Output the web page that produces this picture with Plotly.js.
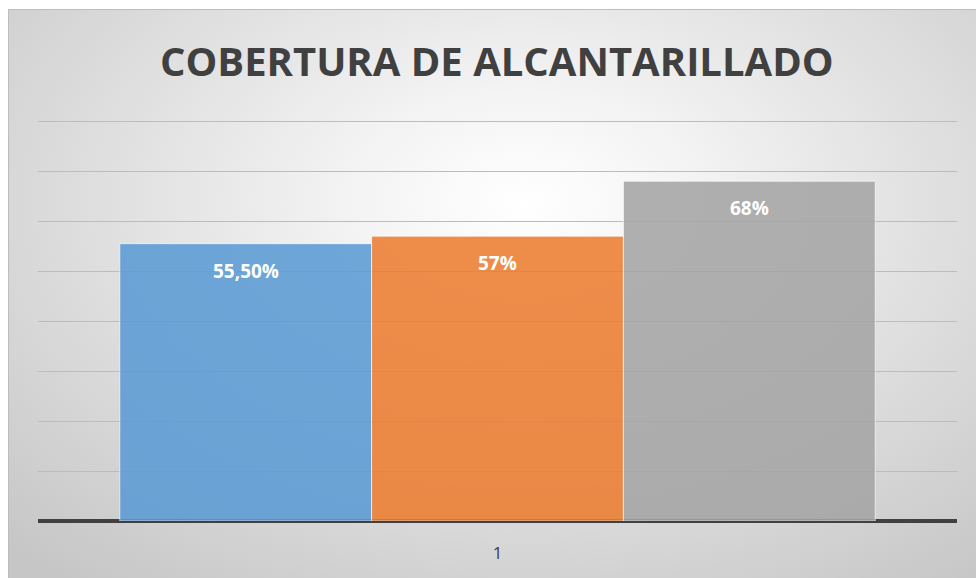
<!DOCTYPE html>
<html>
<head>
<meta charset="utf-8">
<script src="https://cdn.plot.ly/plotly-3.0.1.min.js"></script>
<style>
  html, body { margin: 0; padding: 0; width: 976px; height: 578px; overflow: hidden; background: #ffffff; }
  #frame {
    position: absolute; left: 8px; top: 9px; width: 990px; height: 600px;
    border: 1px solid #bdbdbd;
    background: radial-gradient(ellipse 75% 80% at 52% 32%, #ffffff 0%, #f4f4f4 22%, #dcdcdc 62%, #c6c6c6 100%);
  }
  #chart { position: absolute; left: 0; top: 0; width: 976px; height: 578px; }
</style>
</head>
<body>
<div id="frame"></div>
<div id="chart"></div>
<script>
const categories = ["1"];
const seriesNames = ["Serie 1", "Serie 2", "Serie 3"];
const values = [0.555, 0.57, 0.68];
const labels = ["55,50%", "57%", "68%"];
const colors = ["#5b9bd5", "#ed7d31", "#a5a5a5"];
const yTicks = [0, 0.1, 0.2, 0.3, 0.4, 0.5, 0.6, 0.7, 0.8];

const bargap = 0.178;
const n = values.length;
const barW = (1 - bargap) / n;

const traces = values.map((v, i) => ({
  type: "bar",
  name: seriesNames[i],
  x: categories,
  y: [v],
  marker: { color: colors[i], opacity: 0.87, line: { color: "rgba(255,255,255,0.7)", width: 1 } },
  hoverinfo: "skip"
}));

const annotations = values.map((v, i) => ({
  x: (i - (n - 1) / 2) * barW,
  y: v,
  xref: "x", yref: "y",
  text: "<b>" + labels[i] + "</b>",
  showarrow: false,
  yshift: -27,
  font: { family: "Open Sans, sans-serif", size: 19, color: "#ffffff" }
}));

const layout = {
  width: 976, height: 578,
  paper_bgcolor: "rgba(0,0,0,0)",
  plot_bgcolor: "rgba(0,0,0,0)",
  margin: { l: 38, r: 19, t: 120, b: 57 },
  showlegend: false,
  barmode: "group",
  bargap: bargap,
  bargroupgap: 0,
  title: {
    text: "<b>COBERTURA DE ALCANTARILLADO</b>",
    x: 0.509, xanchor: "center",
    y: 0.893, yanchor: "middle",
    font: { family: "Open Sans, sans-serif", size: 40, color: "#404040" }
  },
  xaxis: {
    type: "category",
    showgrid: false,
    showline: false,
    zeroline: false,
    ticks: "",
    tickfont: { family: "Open Sans, sans-serif", size: 17, color: "#404040" },
    ticklabelstandoff: 20
  },
  yaxis: {
    range: [0, 0.8025],
    tickvals: yTicks,
    showticklabels: false,
    showgrid: true,
    gridcolor: "#bcbcbc",
    gridwidth: 1,
    zeroline: true,
    zerolinecolor: "#404040",
    zerolinewidth: 4,
    showline: false
  },
  annotations: annotations
};

Plotly.newPlot("chart", traces, layout, { displayModeBar: false, staticPlot: true });
</script>
</body>
</html>
